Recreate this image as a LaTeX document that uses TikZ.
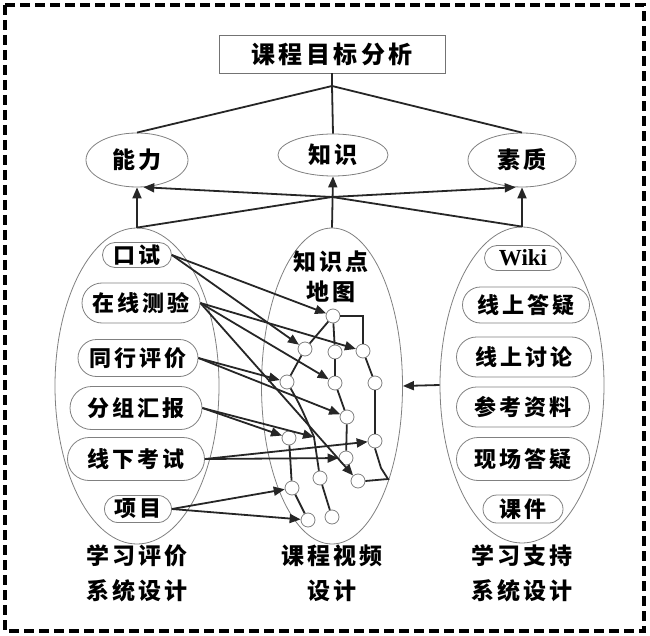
\documentclass[tikz,border=0pt]{standalone}
\usepackage{fontspec}
\newfontfamily\cjk[LetterSpace=14]{Noto Sans CJK SC}
\newfontfamily\wikifont{Liberation Serif}
\usetikzlibrary{arrows.meta,shapes.geometric,shapes.misc}
\begin{document}
\begin{tikzpicture}[x=1pt,y=-1pt,
  thinline/.style={draw=black!50, line width=0.8pt},
  conn/.style={draw=black!85, line width=1.8pt},
  arr/.style={conn, -{Triangle[length=11pt,width=9pt]}},
  kn/.style={circle, thinline, minimum size=14pt, inner sep=0pt},
  bigell/.style={ellipse, thinline, inner sep=0pt},
  topell/.style={ellipse, thinline, inner sep=0pt, font=\cjk\bfseries\fontsize{23}{23}\selectfont},
  item/.style={rounded rectangle, thinline, inner sep=0pt, font=\cjk\bfseries\fontsize{22}{22}\selectfont},
  lab/.style={font=\cjk\bfseries\fontsize{23}{23}\selectfont, inner sep=0pt},
]
\useasboundingbox (0,0) rectangle (650,636);
\draw[line width=3.5pt, dash pattern=on 10pt off 5pt] (5,5) rectangle (644,631);

% title
\node[draw=black!55, line width=0.9pt, minimum width=226pt, minimum height=38pt, inner sep=0pt,
      font=\cjk\bfseries\fontsize{24}{24}\selectfont] (title) at (332,54) {课程目标分析};
\coordinate (j1) at (332,86);
\coordinate (j2) at (332,197);

% top ellipses
\node[topell, minimum width=102pt, minimum height=54pt] (nengli) at (137,160) {能力};
\node[topell, minimum width=110pt, minimum height=42pt] (zhishi) at (333,155) {知识};
\node[topell, minimum width=108pt, minimum height=54pt] (suzhi) at (522,160) {素质};

% big ellipses
\node[bigell, minimum width=164pt, minimum height=316pt] (leftE) at (137,386) {};
\node[bigell, minimum width=141pt, minimum height=316pt] (midE) at (332,386) {};
\node[bigell, minimum width=164pt, minimum height=316pt] (rightE) at (522,385) {};

% left items
\node[item, minimum width=69pt, minimum height=25pt] (koushi) at (137,255) {口试};
\node[item, minimum width=118pt, minimum height=40pt] (zaixian) at (141,303) {在线测验};
\node[item, minimum width=120pt, minimum height=37pt] (tonghang) at (138,358) {同行评价};
\node[item, minimum width=132pt, minimum height=43pt] (fenzu) at (136,408) {分组汇报};
\node[item, minimum width=137pt, minimum height=43pt] (xianxia) at (136,459) {线下考试};
\node[item, minimum width=67pt, minimum height=27pt] (xiangmu) at (138,509) {项目};

% right items
\node[item, minimum width=77pt, minimum height=25pt, font=\wikifont\bfseries\fontsize{23}{23}\selectfont] (wiki) at (523,258) {Wiki};
\node[item, minimum width=127pt, minimum height=36pt] (dayi) at (526,305) {线上答疑};
\node[item, minimum width=135pt, minimum height=40pt] (taolun) at (524,357) {线上讨论};
\node[item, minimum width=133pt, minimum height=40pt] (cankao) at (523,407) {参考资料};
\node[item, minimum width=133pt, minimum height=43pt] (xianchang) at (523,459) {现场答疑};
\node[item, minimum width=80pt, minimum height=28pt] (kejian) at (523,509) {课件};

% middle labels
\node[lab] (zsd) at (331,262) {知识点};
\node[lab] (dt) at (331,292) {地图};

% bottom labels
\node[lab] (b1a) at (137,556) {学习评价};
\node[lab] (b1b) at (137,591) {系统设计};
\node[lab] (b2a) at (332,556) {课程视频};
\node[lab] (b2b) at (332,591) {设计};
\node[lab] (b3a) at (522,556) {学习支持};
\node[lab] (b3b) at (522,591) {系统设计};

% knowledge nodes
\node[kn] (A) at (333,316) {};
\node[kn] (B) at (305,349) {};
\node[kn] (C) at (335,352) {};
\node[kn] (D) at (363,351) {};
\node[kn] (E) at (287,382) {};
\node[kn] (F) at (335,383) {};
\node[kn] (G) at (375,383) {};
\node[kn] (H) at (347,417) {};
\node[kn] (I) at (289,438) {};
\node[kn] (J) at (375,441) {};
\node[kn] (K) at (346,458) {};
\node[kn] (L) at (320,478) {};
\node[kn] (M) at (358,481) {};
\node[kn] (N) at (292,488) {};
\node[kn] (O) at (308,520) {};
\node[kn] (P) at (332,517) {};
\coordinate (Q) at (314,437);

% top connectors
\draw[conn] (title.south) -- (j1);
\draw[conn] (j1) -- (nengli.north);
\draw[conn] (j1) -- (zhishi.north);
\draw[conn] (j1) -- (suzhi.north);

\draw[arr] (leftE.north) -- (nengli.south);
\draw[arr] (rightE.north) -- (suzhi.south);
\draw[arr] (midE.north) -- (zhishi.south);
\draw[arr] (leftE.north) -- (j2) -- (suzhi.-103);
\draw[arr] (rightE.north) -- (j2) -- (nengli.-77);

\draw[arr] (rightE.west) -- (midE.east);

% internal map lines
\draw[conn] (A.east) -| (D.north);
\draw[conn] (A) -- (B);
\draw[conn] (A) -- (C);
\draw[conn] (B) -- (E);
\draw[conn] (C) -- (F);
\draw[conn] (D) -- (G);
\draw[conn] (F) -- (H);
\draw[conn] (G) -- (J);
\draw[conn] (H) -- (K);
\draw[conn] (J.south) -- (381,468) -- (388,479) -- (M.east);
\draw[conn] (I) -- (N);
\draw[conn] (N) -- (O);
\draw[conn] (L) -- (P);
\draw[conn] (E) .. controls (300,405) .. (Q) -- (L);

% evaluation arrows
\draw[arr] (koushi.east) -- (A);
\draw[arr] (koushi.east) -- (B);
\draw[arr] (zaixian.east) -- (D);
\draw[arr] (zaixian.east) -- (F);
\draw[arr] (zaixian.east) -- (M);
\draw[arr] (tonghang.east) -- (E);
\draw[arr] (tonghang.east) -- (H);
\draw[arr] (fenzu.east) -- (I);
\draw[arr] (fenzu.east) -- (Q);
\draw[arr] (xianxia.east) -- (J);
\draw[arr] (xianxia.east) -- (K);
\draw[arr] (xiangmu.east) -- (N);
\draw[arr] (xiangmu.east) -- (O);
\end{tikzpicture}
\end{document}
